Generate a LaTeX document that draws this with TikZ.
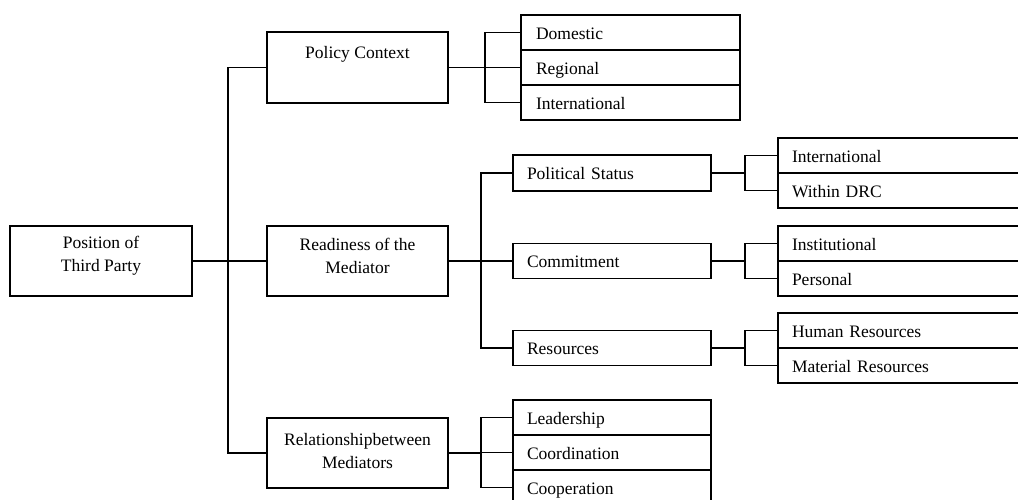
\documentclass[tikz,border=0pt]{standalone}
\usepackage{fontspec}
\setmainfont{Liberation Serif}
\begin{document}
\begin{tikzpicture}[x=1pt,y=-1pt,
  every node/.style={font=\fontsize{17.5}{23}\selectfont},
  frame/.style={draw, line width=1.7pt, rectangle, inner sep=0pt},
  caption/.style={align=center, inner sep=0pt},
  cell/.style={frame, inner xsep=14pt, minimum height=35pt, text height=15pt, text depth=2pt, align=left},
  midcell/.style={cell, text width=170pt},
  topcell/.style={cell, text width=189pt, inner xsep=15pt},
  farcell/.style={cell, text width=224pt},
  link/.style={line width=1.7pt}]
\useasboundingbox (0,0) rectangle (1018,499);
\clip (0,0) rectangle (1018,499);

% main boxes
\node[frame, minimum width=182pt, minimum height=70pt] (root) at (101,261) {};
\node[caption] (rootText) at (101,256) {Position of\\Third Party};
\node[frame, minimum width=181pt, minimum height=71pt] (pc) at (357.5,67.5) {};
\node[caption] (pcText) at (357.5,54) {Policy Context};
\node[frame, minimum width=181pt, minimum height=70pt] (rd) at (357.5,261) {};
\node[caption] (rdText) at (357.5,256) {Readiness of the\\Mediator};
\node[frame, minimum width=181pt, minimum height=70pt] (rel) at (357.5,453) {};
\node[caption] (relText) at (357.5,451) {Relationshipbetween\\Mediators};

% policy context list
\node[topcell] (dom) at (630.5,32.5) {Domestic};
\node[topcell] (reg) at (630.5,67.5) {Regional};
\node[topcell] (intl) at (630.5,102.5) {International};

% readiness branches
\node[midcell, minimum height=36pt] (ps) at (612,173) {Political Status};
\node[midcell] (commit) at (612,261) {Commitment};
\node[midcell] (res) at (612,348) {Resources};

% relationship list
\node[midcell] (lead) at (612,417.5) {Leadership};
\node[midcell] (coord) at (612,452.5) {Coordination};
\node[midcell] (coop) at (612,487.5) {Cooperation};

% third level lists
\node[farcell] (intlB) at (904,155.5) {International};
\node[farcell] (drc) at (904,190.5) {Within DRC};
\node[farcell] (inst) at (904,243.5) {Institutional};
\node[farcell] (pers) at (904,278.5) {Personal};
\node[farcell] (hum) at (904,330.5) {Human Resources};
\node[farcell] (mat) at (904,365.5) {Material Resources};

% bracket columns
\coordinate (T) at (228,0);
\coordinate (B1) at (485,0);
\coordinate (M) at (481,0);
\coordinate (B2) at (745,0);

% root to first level
\draw[link] (root.east) -- (rd.west);
\draw[link] (pc.west) -- (pc.west -| T) -- (rel.west -| T) -- (rel.west);

% policy context
\draw[link] (pc.east) -- (pc.east -| B1);
\draw[link] (dom.west) -- (dom.west -| B1) -- (intl.west -| B1) -- (intl.west);
\draw[link] (reg.west -| B1) -- (reg.west);

% readiness
\draw[link] (rd.east) -- (rd.east -| M);
\draw[link] (ps.west) -- (ps.west -| M) -- (res.west -| M) -- (res.west);
\draw[link] (commit.west -| M) -- (commit.west);

% relationship
\draw[link] (rel.east) -- (rel.east -| M);
\draw[link] (lead.west) -- (lead.west -| M) -- (coop.west -| M) -- (coop.west);
\draw[link] (coord.west -| M) -- (coord.west);

% third level
\draw[link] (ps.east) -- (ps.east -| B2);
\draw[link] (intlB.west) -- (intlB.west -| B2) -- (drc.west -| B2) -- (drc.west);
\draw[link] (commit.east) -- (commit.east -| B2);
\draw[link] (inst.west) -- (inst.west -| B2) -- (pers.west -| B2) -- (pers.west);
\draw[link] (res.east) -- (res.east -| B2);
\draw[link] (hum.west) -- (hum.west -| B2) -- (mat.west -| B2) -- (mat.west);
\end{tikzpicture}
\end{document}
